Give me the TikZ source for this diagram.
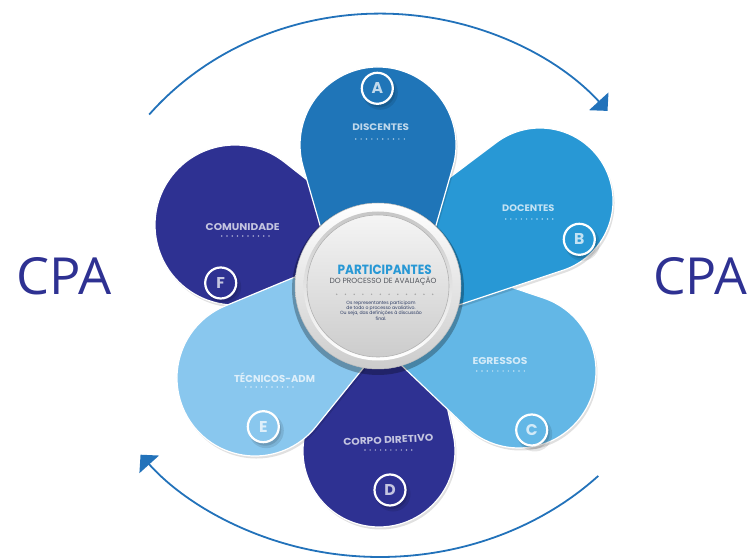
\documentclass[tikz,border=0pt]{standalone}
\usepackage{fontspec}
\usepackage{graphicx}
\usetikzlibrary{arrows.meta}
\newfontfamily\pop{Poppins}
\newfontfamily\osans{Open Sans}
\definecolor{pA}{RGB}{31,117,184}
\definecolor{pB}{RGB}{40,152,213}
\definecolor{pC}{RGB}{99,183,230}
\definecolor{pD}{RGB}{46,49,146}
\definecolor{pE}{RGB}{137,199,238}
\definecolor{pF}{RGB}{46,49,146}
\definecolor{arcc}{RGB}{34,114,186}
\definecolor{cpac}{RGB}{46,49,146}
\definecolor{titc}{RGB}{40,152,213}
\definecolor{subc}{RGB}{85,88,95}
\definecolor{descc}{RGB}{45,60,100}
\newcommand\petal[4]{% cx cy r color
 \pgfmathsetmacro\pth{atan2(#2-271,#1-378)}%
 \pgfmathsetmacro\qx{378+40*cos(\pth)}%
 \pgfmathsetmacro\qy{271+40*sin(\pth)}%
 \pgfmathsetmacro\pL{veclen(#1-\qx,#2-\qy)}%
 \pgfmathsetmacro\pal{acos((50-#3)/\pL)}%
 \pgfmathsetmacro\sa{\pth-\pal}%
 \pgfmathsetmacro\ea{\pth+\pal}%
 \pgfmathsetmacro\eb{\pth+360-\pal}%
 \pgfmathsetmacro\tx{\qx+50*cos(\ea)}%
 \pgfmathsetmacro\ty{\qy+50*sin(\ea)}%
 \fill[black, opacity=0.12] (#1+1.5,#2-2.5) ++(\sa:#3pt) arc[start angle=\sa, end angle=\ea, radius=#3pt] -- (\tx+1.5,\ty-2.5) arc[start angle=\ea, end angle=\eb, radius=50pt] -- cycle;
 \fill[#4, draw=white, line width=1.2pt] (#1,#2) ++(\sa:#3pt) arc[start angle=\sa, end angle=\ea, radius=#3pt] -- (\tx,\ty) arc[start angle=\ea, end angle=\eb, radius=50pt] -- cycle;
}
\newcommand\badge[5]{% name x y letter color
 \fill[black, opacity=0.10] (#2+3,#3-4) circle (17.5pt);
 \fill[black, opacity=0.12] (#2+2,#3-3) circle (16pt);
 \node[badgest, fill=#5] (#1) at (#2,#3) {\resizebox{!}{11pt}{#4}};
}
\newcommand\dotrow[5]{% x1 x2 y n style
 \pgfmathsetmacro\dstep{(#2-#1)/(#4-1)}%
 \foreach \i in {1,...,#4} {\fill[#5] ({#1+(\i-1)*\dstep},#3) circle (0.8pt);}
}
\tikzset{
 badgest/.style={circle, draw=white, line width=2.2pt, minimum size=31pt, inner sep=0pt, text=white, text opacity=0.72, font=\pop\bfseries},
 lbl/.style={text=white, text opacity=0.72, font=\pop\bfseries, inner sep=0pt},
 wdot/.style={white, opacity=0.6},
 cycarc/.style={draw=arcc, line width=1.8pt, -{Triangle[length=13pt,width=26pt]}},
 cpa/.style={text=cpac, font=\osans, inner sep=0pt}
}
\begin{document}
\begin{tikzpicture}[x=1pt,y=1pt]
\useasboundingbox (0,0) rectangle (752,557);
% cycle arrows
\coordinate (ts) at ({380+297*cos(141)},{271+272.4*sin(141)});
\draw[cycarc] (ts) arc[start angle=141, end angle=40, x radius=297pt, y radius=272.4pt];
\coordinate (bs) at ({380+306*cos(-44.5)},{271+271*sin(-44.5)});
\draw[cycarc] (bs) arc[start angle=-44.5, end angle=-141.5, x radius=306pt, y radius=271pt];
% CPA labels
\node[cpa] (cpaL) at (64.2,280.5) {\resizebox{95pt}{37pt}{CPA}};
\node[cpa] (cpaR) at (700,280.5) {\resizebox{94pt}{37pt}{CPA}};
% petal D
\petal{379}{106}{76}{pD}
\node[lbl, rotate=3] (lD) at (388.3,117) {\resizebox{90pt}{7pt}{CORPO DIRETIVO}};
\dotrow{365}{411.7}{107}{10}{wdot}
\badge{bD}{390}{67}{D}{pD}
% petal C
\petal{519}{186}{77}{pC}
\node[lbl] (lC) at (500,196.3) {\resizebox{55pt}{7pt}{EGRESSOS}};
\dotrow{476.7}{524.3}{186}{10}{wdot}
\badge{bC}{531.7}{127}{C}{pC}
% petal B
\petal{540}{356}{73}{pB}
\node[lbl] (lB) at (528.3,348.7) {\resizebox{52.3pt}{6.7pt}{DOCENTES}};
\dotrow{505.7}{552.7}{338}{10}{wdot}
\badge{bB}{579.3}{317.7}{B}{pB}
% petal F
\petal{235}{332}{80}{pF}
\node[lbl] (lF) at (242.7,330.3) {\resizebox{74pt}{7pt}{COMUNIDADE}};
\dotrow{221.7}{269}{321}{10}{wdot}
\badge{bF}{220.7}{274}{F}{pF}
% petal E
\petal{255}{179}{78}{pE}
\node[lbl] (lE) at (274.5,179.5) {\resizebox{81pt}{!}{\fontsize{9}{10}\selectfont TÉCNICOS-ADM}};
\dotrow{245.7}{293}{170}{10}{wdot}
\badge{bE}{263.3}{130.3}{E}{pE}
% petal A
\petal{378}{412}{78}{pA}
\node[lbl] (lA) at (380.7,430.3) {\resizebox{56.7pt}{6.7pt}{DISCENTES}};
\dotrow{355.7}{404.3}{418}{10}{wdot}
\badge{bA}{377.3}{468.7}{A}{pA}
% center medallion
\fill[black, opacity=0.28] (378,268) circle (86pt);
\shade[top color=white, bottom color=black!20, draw=black!25, line width=0.5pt] (378,271) circle (83pt);
\shade[top color=black!22, bottom color=white] (378,271) circle (74.5pt);
\shade[shading=axis, shading angle=-35, top color=black!4, bottom color=black!20, draw=black!30, line width=0.6pt] (378,271) circle (71pt);
\node[inner sep=0pt, text=titc, font=\pop\bfseries] (title) at (384.7,287) {\resizebox{94pt}{9.5pt}{PARTICIPANTES}};
\node[inner sep=0pt, text=subc, font=\pop] (subtitle) at (383,275.5) {\resizebox{107pt}{!}{\fontsize{7}{8}\selectfont DO PROCESSO DE AVALIAÇÃO}};
\dotrow{336.7}{432.7}{262.7}{12}{black!35}
\node[inner sep=0pt, text=descc, align=center, font=\pop\fontsize{4.6}{5.4}\selectfont] (desc) at (381,246.5) {Os representantes participam\\de todo o processo avaliativo.\\Ou seja, das definições à discussão\\final.};
\end{tikzpicture}
\end{document}
